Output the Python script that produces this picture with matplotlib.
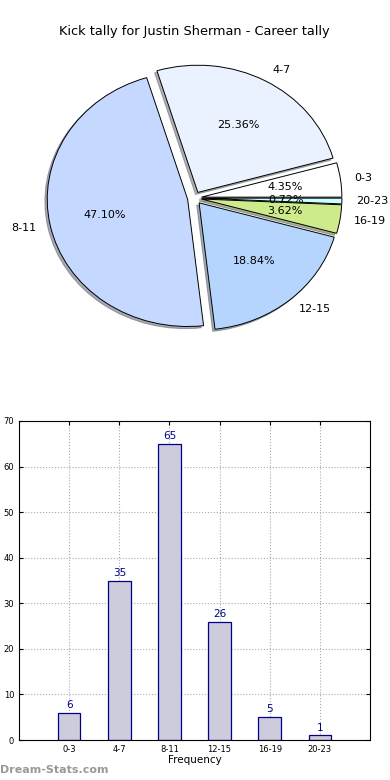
import matplotlib.pyplot as plt
import matplotlib
import numpy as np

matplotlib.rcParams['font.family'] = 'DejaVu Sans'

cats = ['0-3', '4-7', '8-11', '12-15', '16-19', '20-23']
counts = [6, 35, 65, 26, 5, 1]
pie_colors = ['#ffffff', '#eaf1ff', '#c5d8ff', '#b5d5ff', '#cdeb8b', '#ccffff']
title = 'Kick tally for Justin Sherman - Career tally'

fig = plt.figure(figsize=(3.9, 7.8), dpi=100)

# pie on top, not forced circular (old style)
ax1 = fig.add_axes([19/390, 1-357/780, 351/390, 318/780])
wedges, texts, autotexts = ax1.pie(counts, labels=cats, colors=pie_colors,
                                   explode=[0.05]*len(counts),
                                   shadow=dict(ox=-0.012, oy=-0.012, shade=0.6),
                                   autopct='%1.2f%%', startangle=0,
                                   wedgeprops=dict(edgecolor='black', linewidth=0.7),
                                   textprops=dict(fontsize=8))
ax1.set_aspect('auto')
ax1.set_xlim(-1.25, 1.25)
ax1.set_ylim(-1.25, 1.25)
ax1.set_title(title, fontsize=9.3, pad=3)

# bar chart below
ax2 = fig.add_axes([19/390, 1-740/780, 351/390, 319/780])
x = np.arange(len(cats))
bars = ax2.bar(x, counts, width=0.45, color='#ccccdd', edgecolor='#000088',
               linewidth=0.9, zorder=2)
for xi, c in zip(x, counts):
    ax2.text(xi, c + 0.6, str(c), ha='center', va='bottom', color='#000088', fontsize=7.5)
ax2.set_xlim(-1, 6)
ax2.set_ylim(0, 70)
ax2.set_xticks(x)
ax2.set_xticklabels(cats, fontsize=6)
ax2.set_yticks(range(0, 71, 10))
ax2.tick_params(axis='y', labelsize=6)
ax2.tick_params(direction='in', top=True, right=True, length=3)
ax2.grid(True, linestyle=':', color='#aaaaaa', linewidth=0.8, zorder=0)
ax2.set_axisbelow(True)
ax2.set_xlabel('Frequency', fontsize=7.5, labelpad=1)

fig.text(0.0, 1-770/780, 'Dream-Stats.com', color='#999999', fontsize=8,
         fontweight='bold', ha='left', va='center')

plt.savefig('out.png', dpi=100)
